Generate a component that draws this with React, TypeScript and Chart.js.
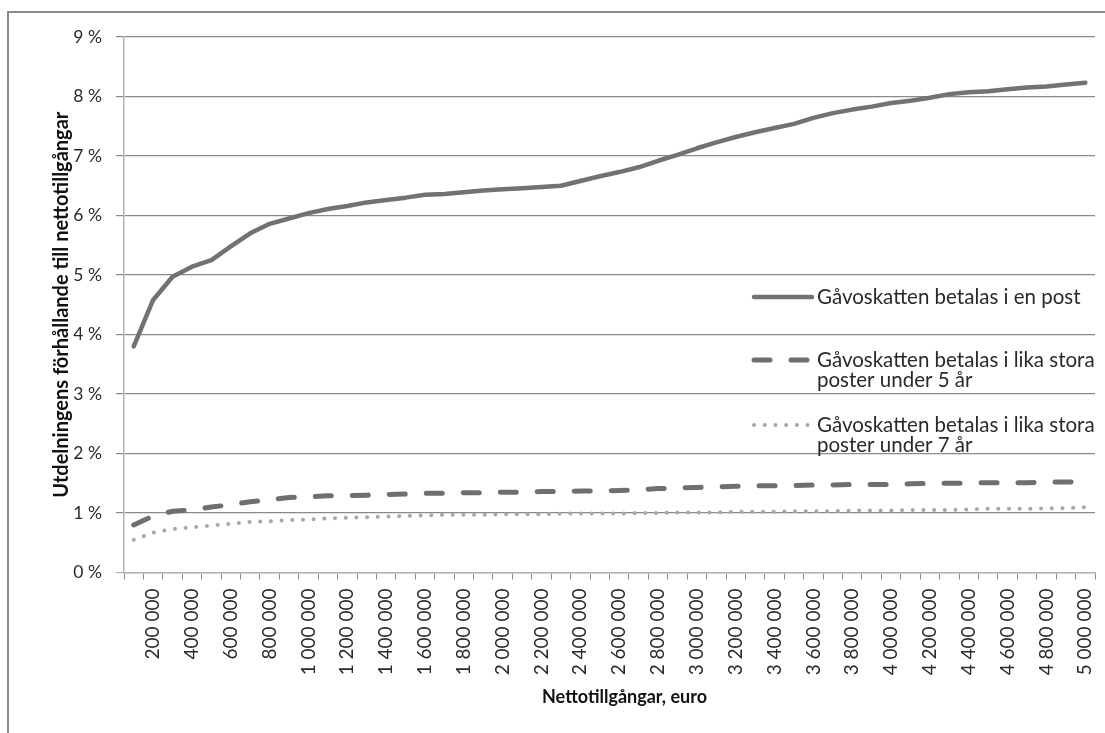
import React, { useEffect, useRef } from "react";
import { Chart, registerables } from "chart.js";

Chart.register(...registerables);

// X categories: net assets, euro
const xLabels: string[] = [
  "100 000", "200 000", "300 000", "400 000", "500 000",
  "600 000", "700 000", "800 000", "900 000", "1 000 000",
  "1 100 000", "1 200 000", "1 300 000", "1 400 000", "1 500 000",
  "1 600 000", "1 700 000", "1 800 000", "1 900 000", "2 000 000",
  "2 100 000", "2 200 000", "2 300 000", "2 400 000", "2 500 000",
  "2 600 000", "2 700 000", "2 800 000", "2 900 000", "3 000 000",
  "3 100 000", "3 200 000", "3 300 000", "3 400 000", "3 500 000",
  "3 600 000", "3 700 000", "3 800 000", "3 900 000", "4 000 000",
  "4 100 000", "4 200 000", "4 300 000", "4 400 000", "4 500 000",
  "4 600 000", "4 700 000", "4 800 000", "4 900 000", "5 000 000",
];

// Gift tax paid in one installment (%)
const oneInstallment: number[] = [
  3.80, 4.58, 4.97, 5.14, 5.25, 5.48, 5.70, 5.86, 5.95, 6.04,
  6.11, 6.16, 6.22, 6.26, 6.30, 6.35, 6.36, 6.39, 6.42, 6.44,
  6.46, 6.48, 6.50, 6.58, 6.66, 6.73, 6.81, 6.92, 7.02, 7.13,
  7.23, 7.32, 7.40, 7.47, 7.54, 7.64, 7.72, 7.78, 7.83, 7.89,
  7.93, 7.98, 8.04, 8.07, 8.09, 8.12, 8.15, 8.17, 8.20, 8.23,
];

// Gift tax paid in equal installments over 5 years (%)
const fiveYears: number[] = [
  0.80, 0.95, 1.03, 1.05, 1.10, 1.14, 1.19, 1.22, 1.26, 1.27,
  1.29, 1.29, 1.30, 1.31, 1.32, 1.33, 1.33, 1.34, 1.34, 1.35,
  1.35, 1.36, 1.36, 1.37, 1.37, 1.38, 1.39, 1.41, 1.42, 1.43,
  1.44, 1.45, 1.46, 1.46, 1.46, 1.47, 1.47, 1.48, 1.48, 1.48,
  1.49, 1.50, 1.50, 1.50, 1.51, 1.51, 1.51, 1.52, 1.52, 1.53,
];

// Gift tax paid in equal installments over 7 years (%)
const sevenYears: number[] = [
  0.55, 0.67, 0.73, 0.76, 0.79, 0.82, 0.85, 0.86, 0.88, 0.89,
  0.91, 0.92, 0.93, 0.94, 0.95, 0.96, 0.97, 0.97, 0.97, 0.98,
  0.98, 0.98, 0.99, 0.99, 0.99, 0.99, 1.00, 1.00, 1.01, 1.01,
  1.01, 1.02, 1.02, 1.02, 1.03, 1.03, 1.03, 1.04, 1.04, 1.04,
  1.05, 1.05, 1.05, 1.06, 1.07, 1.07, 1.07, 1.08, 1.08, 1.10,
];

const legendLines: string[][] = [
  ["Gåvoskatten betalas i en post"],
  ["Gåvoskatten betalas i lika stora", "poster under 5 år"],
  ["Gåvoskatten betalas i lika stora", "poster under 7 år"],
];

const yTitle = "Utdelningens förhållande till nettotillgångar";
const xTitle = "Nettotillgångar, euro";

const FONT = "Lato";
const TEXT = "#2a2a2a";

const styles = [
  { color: "#727272", width: 4.5, dash: [] as number[] },
  { color: "#6f6f6f", width: 5, dash: [16, 21] },
  { color: "#a8a8a8", width: 4, dash: [0.1, 10.6] },
];

const legendPlugin = {
  id: "inlineLegend",
  afterDraw(chart: any) {
    const { ctx, chartArea } = chart;
    const x0 = chartArea.right - 341;
    const x1 = chartArea.right - 283;
    const tx = chartArea.right - 278;
    const ys = [chartArea.top + 260, chartArea.top + 323, chartArea.top + 388];
    ctx.save();
    ctx.font = `20.5px ${FONT}`;
    ctx.fillStyle = TEXT;
    ctx.textBaseline = "middle";
    ctx.textAlign = "left";
    legendLines.forEach((lines, i) => {
      const s = styles[i];
      ctx.beginPath();
      ctx.strokeStyle = s.color;
      ctx.lineWidth = s.width;
      ctx.lineCap = "round";
      ctx.setLineDash(s.dash);
      ctx.moveTo(x0, ys[i]);
      ctx.lineTo(x1, ys[i]);
      ctx.stroke();
      ctx.setLineDash([]);
      lines.forEach((t, j) => ctx.fillText(t, tx, ys[i] + j * 20.5));
    });
    // axis titles
    ctx.fillStyle = "#111";
    ctx.textAlign = "center";
    ctx.font = `bold 18px ${FONT}`;
    ctx.fillText(xTitle, (chartArea.left + chartArea.right) / 2 + 15, 697);
    ctx.save();
    ctx.translate(62, (chartArea.top + chartArea.bottom) / 2);
    ctx.rotate(-Math.PI / 2);
    ctx.font = `bold 20px ${FONT}`;
    ctx.fillText(yTitle, 0, 0);
    ctx.restore();
    ctx.restore();
  },
};

export default function App() {
  const ref = useRef<HTMLCanvasElement | null>(null);

  useEffect(() => {
    if (!ref.current) return;
    Chart.defaults.font.family = FONT;
    const chart = new Chart(ref.current, {
      type: "line",
      data: {
        labels: xLabels,
        datasets: [oneInstallment, fiveYears, sevenYears].map((d, i) => ({
          label: legendLines[i].join(" "),
          data: d,
          borderColor: styles[i].color,
          backgroundColor: styles[i].color,
          borderWidth: styles[i].width,
          borderDash: styles[i].dash,
          borderCapStyle: "round" as const,
          borderJoinStyle: "round" as const,
          pointRadius: 0,
          tension: 0,
          fill: false,
        })),
      },
      options: {
        animation: false,
        responsive: false,
        maintainAspectRatio: false,
        layout: { padding: { top: 37, right: 10, bottom: 0, left: 0 } },
        plugins: {
          legend: { display: false },
          tooltip: { enabled: false },
        },
        scales: {
          x: {
            type: "category",
            offset: true,
            grid: {
              display: true,
              drawOnChartArea: false,
              drawTicks: true,
              tickLength: 7,
              offset: true,
              color: "#8a8a8a",
            },
            border: { display: true, color: "#b2b2b2", width: 1.5 },
            ticks: {
              autoSkip: false,
              maxRotation: 90,
              minRotation: 90,
              padding: 9,
              color: TEXT,
              font: { family: FONT, size: 19 },
              callback: (_v: any, idx: number) => (idx % 2 === 1 ? xLabels[idx] : ""),
            },
            title: { display: false },
            afterFit: (s: any) => {
              s.height = 160.5;
              s.paddingLeft = 0;
              s.paddingRight = 0;
            },
          },
          y: {
            min: 0,
            max: 9,
            ticks: {
              stepSize: 1,
              padding: 14,
              color: TEXT,
              font: { family: FONT, size: 17.5 },
              callback: (v: any) => `${v} %`,
            },
            grid: {
              drawTicks: true,
              tickLength: 8,
              color: (c: any) => (c.tick && c.tick.value === 0 ? "#b2b2b2" : "#8a8a8a"),
              lineWidth: 1.2,
            },
            border: { display: true, color: "#b2b2b2", width: 1.5 },
            title: { display: false },
            afterFit: (s: any) => {
              s.width = 124;
              s.paddingTop = 0;
              s.paddingBottom = 0;
            },
          },
        },
      },
      plugins: [legendPlugin],
    });
    return () => chart.destroy();
  }, []);

  return (
    <div
      style={{
        position: "fixed",
        left: 0,
        top: 0,
        width: 1105,
        height: 733,
        background: "#fff",
        overflow: "hidden",
      }}
    >
      <div
        style={{
          position: "absolute",
          left: 7,
          top: 11,
          width: 1120,
          height: 740,
          border: "2px solid #8c8c8c",
          boxSizing: "border-box",
        }}
      />
      <canvas
        ref={ref}
        width={1105}
        height={733}
        style={{ position: "absolute", left: 0, top: 0, width: 1105, height: 733 }}
      />
    </div>
  );
}
